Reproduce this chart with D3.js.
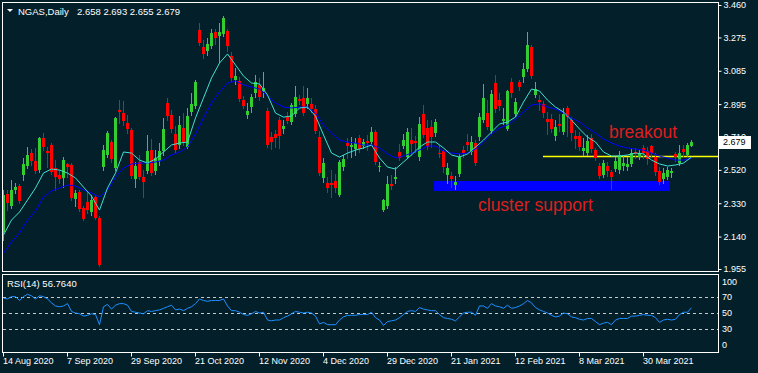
<!DOCTYPE html>
<meta charset="utf-8">
<style>
body { margin: 0; background: #03202a; }
svg { display: block; font-family: "Liberation Sans", Arial, sans-serif; }
.frame { fill: none; stroke: #ffffff; stroke-width: 1; }
.lbl { fill: #ffffff; font-size: 9px; }
.hdr { fill: #ffffff; font-size: 9.5px; }
</style>
<svg width="758" height="373"></svg>
<script src="https://d3js.org/d3.v7.min.js"></script>
<script>
// NGAS daily, 14 Aug 2020 - 16 Apr 2021, one value per bar
var open = [2.166,2.383,2.314,2.405,2.428,2.491,2.542,2.616,2.571,2.519,
  2.702,2.628,2.662,2.531,2.491,2.474,2.554,2.548,2.354,2.394,
  2.303,2.337,2.280,2.365,2.246,2.536,2.605,2.679,2.531,2.861,
  2.844,2.787,2.747,2.468,2.565,2.479,2.514,2.633,2.514,2.571,
  2.628,2.901,2.833,2.725,2.662,2.759,2.650,2.850,2.884,3.317,
  3.221,3.198,3.226,3.306,3.283,3.295,3.312,3.169,3.032,3.027,
  2.918,2.833,2.878,2.958,3.004,2.970,2.856,2.707,2.725,2.804,
  2.753,2.821,2.793,2.839,2.924,2.930,2.896,2.896,2.867,2.707,
  2.474,2.445,2.445,2.457,2.377,2.536,2.673,2.650,2.639,2.702,
  2.656,2.685,2.679,2.736,2.536,2.291,2.314,2.440,2.468,2.622,
  2.656,2.593,2.690,2.685,2.593,2.839,2.759,2.764,2.730,2.616,
  2.628,2.491,2.485,2.434,2.497,2.633,2.679,2.622,2.673,2.707,
  2.804,2.844,2.742,3.015,2.918,2.799,2.753,3.021,2.839,3.021,
  3.050,3.095,3.221,2.947,2.918,2.896,2.810,2.810,2.713,2.782,
  2.736,2.873,2.804,2.713,2.713,2.628,2.616,2.702,2.633,2.542,
  2.491,2.542,2.508,2.525,2.519,2.542,2.536,2.554,2.622,2.593,
  2.645,2.628,2.656,2.593,2.514,2.468,2.479,2.502,2.611,2.559,
  2.639,2.605,2.658];
var high = [2.405,2.405,2.462,2.445,2.440,2.588,2.650,2.639,2.645,2.707,
  2.730,2.650,2.673,2.576,2.519,2.593,2.559,2.559,2.405,2.405,
  2.314,2.394,2.377,2.377,2.257,2.662,2.742,2.690,2.821,2.918,
  2.913,2.833,2.759,2.565,2.605,2.519,2.719,2.696,2.633,2.673,
  2.816,2.930,2.861,2.770,2.827,2.844,2.873,2.958,3.032,3.357,
  3.260,3.272,3.323,3.323,3.357,3.397,3.323,3.192,3.101,3.050,
  2.941,2.901,2.953,3.061,3.044,3.078,2.873,2.736,2.747,2.821,
  2.804,2.850,2.901,2.998,2.947,2.998,2.987,2.930,2.890,2.742,
  2.588,2.479,2.519,2.497,2.576,2.605,2.702,2.707,2.702,2.719,
  2.696,2.719,2.764,2.747,2.565,2.354,2.485,2.491,2.536,2.668,
  2.725,2.759,2.759,2.713,2.821,2.890,2.804,2.804,2.810,2.662,
  2.633,2.559,2.508,2.485,2.611,2.656,2.725,2.713,2.690,2.844,
  3.010,2.918,2.975,3.061,2.958,2.873,2.975,3.044,2.930,3.032,
  3.129,3.306,3.232,3.021,2.947,2.913,2.850,2.839,2.804,2.839,
  2.873,2.884,2.821,2.747,2.736,2.702,2.719,2.725,2.645,2.559,
  2.576,2.565,2.519,2.593,2.628,2.599,2.593,2.639,2.645,2.633,
  2.662,2.650,2.662,2.616,2.536,2.531,2.536,2.531,2.622,2.662,
  2.662,2.673,2.693];
var low = [2.120,2.291,2.303,2.388,2.331,2.462,2.531,2.548,2.502,2.508,
  2.633,2.536,2.497,2.405,2.445,2.422,2.479,2.348,2.314,2.286,
  2.234,2.274,2.263,2.240,1.972,2.519,2.593,2.565,2.519,2.787,
  2.776,2.730,2.474,2.422,2.468,2.365,2.502,2.491,2.497,2.548,
  2.605,2.804,2.736,2.616,2.645,2.662,2.645,2.833,2.873,3.232,
  3.158,3.175,3.215,3.238,3.135,3.283,3.198,3.027,3.010,2.913,
  2.873,2.816,2.850,2.935,2.918,2.935,2.650,2.639,2.650,2.645,
  2.730,2.787,2.782,2.827,2.896,2.833,2.873,2.850,2.730,2.491,
  2.451,2.394,2.365,2.394,2.371,2.519,2.588,2.593,2.605,2.622,
  2.645,2.633,2.673,2.554,2.514,2.286,2.303,2.411,2.445,2.576,
  2.645,2.588,2.605,2.622,2.576,2.707,2.639,2.650,2.713,2.593,
  2.508,2.445,2.422,2.411,2.485,2.593,2.633,2.611,2.548,2.690,
  2.793,2.753,2.730,2.850,2.861,2.782,2.747,2.935,2.827,2.975,
  3.021,3.084,3.044,2.935,2.861,2.821,2.725,2.736,2.690,2.742,
  2.725,2.713,2.690,2.645,2.633,2.605,2.605,2.622,2.576,2.474,
  2.479,2.485,2.411,2.514,2.502,2.519,2.519,2.542,2.588,2.582,
  2.588,2.554,2.599,2.491,2.440,2.445,2.468,2.479,2.571,2.548,
  2.599,2.599,2.655];
var close = [2.377,2.331,2.405,2.422,2.343,2.554,2.605,2.571,2.514,2.702,
  2.650,2.616,2.508,2.479,2.468,2.576,2.536,2.360,2.388,2.297,
  2.240,2.291,2.348,2.246,1.978,2.633,2.730,2.582,2.816,2.850,
  2.799,2.753,2.485,2.542,2.479,2.451,2.628,2.502,2.588,2.628,
  2.753,2.827,2.753,2.633,2.776,2.679,2.827,2.896,3.021,3.243,
  3.181,3.238,3.300,3.272,3.306,3.386,3.226,3.044,3.055,2.924,
  2.884,2.856,2.935,3.021,2.935,2.987,2.662,2.679,2.702,2.713,
  2.770,2.799,2.890,2.935,2.913,2.844,2.930,2.867,2.742,2.502,
  2.559,2.417,2.434,2.417,2.565,2.582,2.656,2.662,2.673,2.639,
  2.679,2.673,2.736,2.565,2.542,2.348,2.440,2.428,2.479,2.588,
  2.690,2.736,2.668,2.673,2.782,2.719,2.650,2.707,2.793,2.611,
  2.536,2.531,2.468,2.451,2.593,2.616,2.662,2.679,2.559,2.821,
  2.930,2.764,2.953,2.867,2.884,2.810,2.970,2.958,2.907,2.993,
  3.095,3.232,3.055,2.981,2.907,2.844,2.793,2.753,2.764,2.770,
  2.839,2.821,2.730,2.696,2.650,2.645,2.685,2.639,2.588,2.485,
  2.559,2.514,2.479,2.571,2.605,2.559,2.554,2.616,2.611,2.616,
  2.616,2.582,2.616,2.508,2.451,2.502,2.519,2.514,2.593,2.616,
  2.622,2.662,2.679];

// moving averages, read every second bar (bar = 2 * index)
var maFast = [2.149,2.234,2.280,2.348,2.417,2.502,2.525,2.519,2.502,2.474,
  2.422,2.371,2.291,2.417,2.502,2.622,2.616,2.576,2.559,2.582,
  2.622,2.662,2.673,2.679,2.816,2.930,3.044,3.129,3.181,3.118,
  3.055,3.015,3.010,2.947,2.844,2.821,2.827,2.873,2.878,2.827,
  2.719,2.616,2.593,2.616,2.633,2.645,2.662,2.588,2.536,2.525,
  2.565,2.605,2.650,2.679,2.679,2.645,2.605,2.593,2.611,2.650,
  2.690,2.736,2.782,2.793,2.821,2.907,2.981,2.970,2.918,2.878,
  2.850,2.804,2.753,2.707,2.679,2.622,2.599,2.599,2.605,2.616,
  2.611,2.576,2.554,2.542,2.548,2.559,2.593];
var maSlow = [2.046,2.109,2.160,2.234,2.286,2.365,2.400,2.417,2.434,2.428,
  2.405,2.388,2.365,2.405,2.479,2.531,2.554,2.559,2.559,2.565,
  2.576,2.605,2.622,2.650,2.725,2.816,2.901,2.964,3.015,3.027,
  3.004,2.993,2.981,2.941,2.901,2.878,2.873,2.878,2.878,2.844,
  2.776,2.730,2.690,2.679,2.673,2.662,2.662,2.645,2.611,2.588,
  2.599,2.616,2.633,2.656,2.656,2.628,2.616,2.611,2.616,2.639,
  2.679,2.725,2.759,2.776,2.810,2.850,2.890,2.896,2.878,2.867,
  2.844,2.816,2.793,2.759,2.730,2.696,2.673,2.656,2.645,2.639,
  2.633,2.616,2.599,2.588,2.576,2.576,2.588];

var rsi = [69,68,71,71,66,71,74,72,68,72,
  71,68,63,59,58,59,62,52,50,49,
  46,47,49,48,35,58,61,55,60,62,
  62,60,52,51,50,49,53,52,53,54,
  56,58,60,54,55,53,56,58,62,68,
  66,65,66,66,66,68,59,53,53,51,
  48,47,49,52,50,51,41,40,41,41,
  44,46,49,52,51,50,51,50,46,36,
  38,35,35,35,41,45,47,47,47,48,
  48,48,51,44,41,34,39,40,41,44,
  48,52,53,52,57,55,54,53,53,48,
  44,43,42,40,45,50,51,51,47,59,
  59,56,62,59,58,56,60,56,57,59,
  62,66,63,57,54,52,50,47,45,46,
  50,49,45,44,42,41,43,43,39,35,
  37,38,35,41,43,43,43,46,46,47,
  48,47,47,44,38,41,42,41,42,48,
  51,51,56.764];

var priceTicks = [3.460, 3.275, 3.085, 2.895, 2.710, 2.520, 2.330, 2.140, 1.955];
var rsiTicks = [100, 70, 50, 30, 0];
var rsiLevels = [70, 50, 30];
var dateBars = [0, 16, 32, 48, 64, 80, 96, 112, 128, 144, 160];
var dateLabels = ['14 Aug 2020', '7 Sep 2020', '29 Sep 2020', '21 Oct 2020', '12 Nov 2020',
  '4 Dec 2020', '29 Dec 2020', '21 Jan 2021', '12 Feb 2021', '8 Mar 2021', '30 Mar 2021'];

// annotations
var breakoutLevel = 2.599, breakoutFrom = 135;
var supportLo = 2.400, supportHi = 2.457, supportFrom = 107.75, supportTo = 166.75;

var svg = d3.select('svg');
var n = open.length;
var x = d3.scaleLinear().domain([0, n - 1]).range([3, 691]);
var y = d3.scaleLinear().domain([1.955, 3.460]).range([269, 5]);
var yr = d3.scaleLinear().domain([0, 100]).range([352, 274]);
var px = function (i) { return Math.round(x(i)); };

svg.append('rect').attr('width', 758).attr('height', 373).attr('fill', '#03202a');

// cluster support zone + breakout line
svg.append('rect')
  .attr('x', px(supportFrom)).attr('y', Math.round(y(supportHi)))
  .attr('width', px(supportTo) - px(supportFrom))
  .attr('height', Math.round(y(supportLo)) - Math.round(y(supportHi)))
  .attr('fill', '#0000ff');
svg.append('line')
  .attr('x1', px(breakoutFrom)).attr('x2', 718)
  .attr('y1', Math.round(y(breakoutLevel)) + 0.5).attr('y2', Math.round(y(breakoutLevel)) + 0.5)
  .attr('stroke', '#ffff00').attr('stroke-width', 1.5);

// candles
var bars = d3.range(n);
var cg = svg.append('g').attr('shape-rendering', 'crispEdges');
var col = function (i) { return close[i] >= open[i] ? '#32cd32' : '#ff0000'; };
cg.selectAll('.wick').data(bars).enter().append('line')
  .attr('x1', function (i) { return px(i) + 0.5; })
  .attr('x2', function (i) { return px(i) + 0.5; })
  .attr('y1', function (i) { return Math.round(y(high[i])); })
  .attr('y2', function (i) { return Math.round(y(low[i])) + 1; })
  .attr('stroke', col);
cg.selectAll('.body').data(bars).enter().append('rect')
  .attr('x', function (i) { return px(i) - 1; })
  .attr('width', 3)
  .attr('y', function (i) { return Math.round(y(Math.max(open[i], close[i]))); })
  .attr('height', function (i) {
    return Math.max(1, Math.round(y(Math.min(open[i], close[i]))) - Math.round(y(Math.max(open[i], close[i]))));
  })
  .attr('fill', col);

// moving averages
var maLine = d3.line()
  .x(function (d, k) { return x(2 * k) + 0.5; })
  .y(function (d) { return y(d); });
svg.append('path').attr('d', maLine(maSlow)).attr('fill', 'none').attr('stroke', '#0000ff');
svg.append('path').attr('d', maLine(maFast)).attr('fill', 'none').attr('stroke', '#40e0d0');

// panel frames
svg.append('rect').attr('class', 'frame').attr('x', 2.5).attr('y', 2.5).attr('width', 716).attr('height', 269);
svg.append('rect').attr('class', 'frame').attr('x', 2.5).attr('y', 274.5).attr('width', 716).attr('height', 78);

// price axis
svg.append('g')
  .attr('transform', 'translate(718.5,0)')
  .call(d3.axisRight(y).tickValues(priceTicks).tickFormat(d3.format('.3f')).tickSize(3).tickPadding(2))
  .call(function (g) {
    g.select('.domain').remove();
    g.selectAll('line').attr('stroke', '#fff');
    g.selectAll('text').attr('fill', '#fff').attr('font-size', 9).attr('font-family', 'Liberation Sans');
  });

// current price marker
var last = close[n - 1];
svg.append('rect')
  .attr('x', 719.5).attr('y', Math.round(y(last)) - 5.5)
  .attr('width', 31).attr('height', 12)
  .attr('fill', '#fff').attr('stroke', '#fff');
svg.append('text').attr('x', 723).attr('y', y(last) + 3.5)
  .attr('font-size', 9).attr('fill', '#000').text(last.toFixed(3));

// header
svg.append('path').attr('d', 'M7,9L13,9L10,12Z').attr('fill', '#fff');
svg.append('text').attr('class', 'hdr').attr('x', 18).attr('y', 14.5).text('NGAS,Daily');
svg.append('text').attr('class', 'hdr').attr('x', 77).attr('y', 14.5)
  .text([open[n - 1], high[n - 1], low[n - 1], close[n - 1]].map(function (v) { return v.toFixed(3); }).join(' '));

// RSI panel
svg.selectAll('.lvl').data(rsiLevels).enter().append('line')
  .attr('x1', 3).attr('x2', 718)
  .attr('y1', function (d) { return Math.round(yr(d)) + 0.5; })
  .attr('y2', function (d) { return Math.round(yr(d)) + 0.5; })
  .attr('stroke', '#c8c8c8').attr('stroke-dasharray', '3,3');
svg.append('path')
  .attr('d', d3.line().x(function (d, i) { return x(i) + 0.5; }).y(function (d) { return yr(d); })(rsi))
  .attr('fill', 'none').attr('stroke', '#1e90ff');
svg.append('text').attr('class', 'hdr').attr('x', 7).attr('y', 287)
  .text('RSI(14) ' + rsi[n - 1].toFixed(4));
svg.selectAll('.rt').data(rsiTicks).enter().append('text')
  .attr('class', 'lbl').attr('x', 722)
  .attr('y', function (d) { return Math.min(345, Math.max(282, yr(d))) + 3; })
  .text(function (d) { return d; });

// date axis
svg.append('g')
  .attr('transform', 'translate(0,352.5)')
  .call(d3.axisBottom(x).tickValues(dateBars).tickFormat(function (d, i) { return dateLabels[i]; }).tickSize(4).tickPadding(1))
  .call(function (g) {
    g.select('.domain').remove();
    g.selectAll('line').attr('stroke', '#fff');
    g.selectAll('text').attr('fill', '#fff').attr('font-size', 9)
      .attr('font-family', 'Liberation Sans').attr('text-anchor', 'start').attr('x', -0.5);
  });

// annotation texts
svg.append('text').attr('x', 609).attr('y', 138)
  .attr('font-size', 17.5).attr('fill', '#dc1e1e').text('breakout');
svg.append('text').attr('x', 478).attr('y', 211)
  .attr('font-size', 17.5).attr('fill', '#dc1e1e').text('cluster support');
</script>
